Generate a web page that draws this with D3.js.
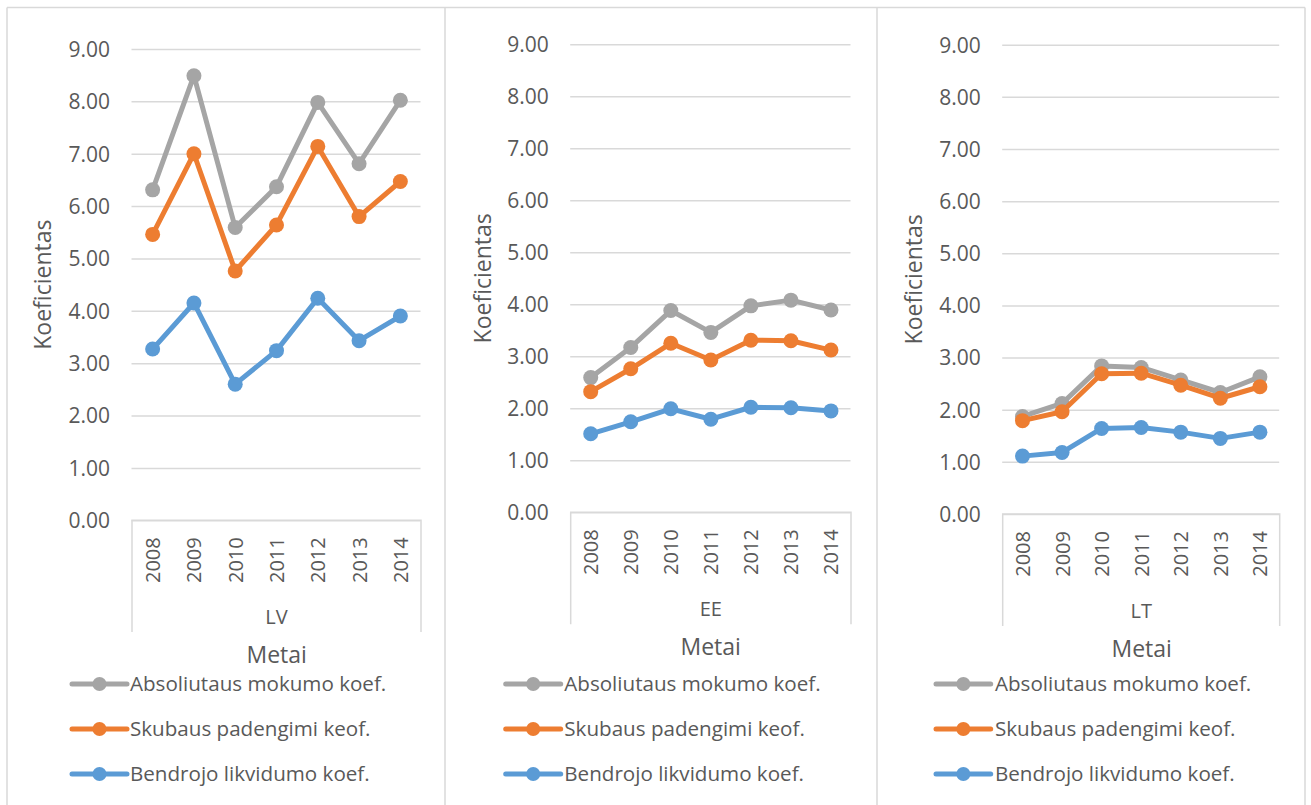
<!DOCTYPE html>
<html>
<head>
<meta charset="utf-8">
<script src="https://cdn.jsdelivr.net/npm/d3@7"></script>
<style>
  html, body { margin: 0; padding: 0; background: #fff; }
  svg { display: block; font-family: "Open Sans", "Noto Sans", sans-serif; }
</style>
</head>
<body>
<svg id="chart" width="1311" height="805"></svg>
<script>
// Categories
const years = ["2008", "2009", "2010", "2011", "2012", "2013", "2014"];
const countries = ["LV", "EE", "LT"];
const seriesNames = ["Absoliutaus mokumo koef.", "Skubaus padengimi keof.", "Bendrojo likvidumo koef."];
const yTicks = [0, 1, 2, 3, 4, 5, 6, 7, 8, 9];
const xTitle = "Metai";
const yTitle = "Koeficientas";

// Latvia
const lvAbsoliutaus = [6.31, 8.49, 5.59, 6.37, 7.98, 6.81, 8.02];
const lvSkubaus     = [5.46, 7.00, 4.76, 5.64, 7.14, 5.80, 6.47];
const lvBendrojo    = [3.27, 4.15, 2.60, 3.24, 4.24, 3.43, 3.90];

// Estonia
const eeAbsoliutaus = [2.59, 3.17, 3.88, 3.46, 3.97, 4.08, 3.89];
const eeSkubaus     = [2.32, 2.76, 3.25, 2.93, 3.31, 3.30, 3.12];
const eeBendrojo    = [1.51, 1.74, 1.99, 1.79, 2.02, 2.01, 1.95];

// Lithuania
const ltAbsoliutaus = [1.87, 2.12, 2.84, 2.81, 2.57, 2.33, 2.63];
const ltSkubaus     = [1.79, 1.96, 2.69, 2.70, 2.47, 2.22, 2.44];
const ltBendrojo    = [1.11, 1.18, 1.64, 1.66, 1.57, 1.45, 1.57];

const seriesColors = ["#A5A5A5", "#ED7D31", "#5B9BD5"];

const panelData = [
  [lvAbsoliutaus, lvSkubaus, lvBendrojo],
  [eeAbsoliutaus, eeSkubaus, eeBendrojo],
  [ltAbsoliutaus, ltSkubaus, ltBendrojo]
];

// Geometry of each chart panel
const layout = [
  { left: 7,   right: 445,  px0: 132,   px1: 421,   py0: 520.3, py1: 49,   boxBottom: 632,   catY: 617,   titleX: 276.7,  titleY: 655,   yTitleX: 43,    legX0: 72,    legX1: 127,   legText: 130 },
  { left: 445, right: 877,  px0: 570.7, px1: 851,   py0: 512.3, py1: 44.3, boxBottom: 624.3, catY: 609,   titleX: 710.7,  titleY: 647,   yTitleX: 483,   legX0: 505.7, legX1: 560.7, legText: 564.3 },
  { left: 877, right: 1305, px0: 1002.7, px1: 1279.7, py0: 514, py1: 44.7, boxBottom: 626,  catY: 611,   titleX: 1141.7, titleY: 649,   yTitleX: 914.3, legX0: 936,   legX1: 990.7, legText: 995 }
];
const legendY = [684, 729, 774];

const svg = d3.select("#chart");
const textColor = "#595959";
const gridColor = "#D9D9D9";

// panel frames
svg.append("line").attr("x1", 7).attr("x2", 1305).attr("y1", 7.5).attr("y2", 7.5)
  .attr("stroke", gridColor).attr("stroke-width", 1.5);
[7, 445, 877, 1305].forEach(x => {
  svg.append("line").attr("x1", x).attr("x2", x).attr("y1", 7.5).attr("y2", 805)
    .attr("stroke", gridColor).attr("stroke-width", 1.5);
});

layout.forEach((L, pi) => {
  const g = svg.append("g");
  const x = d3.scalePoint().domain(years).range([L.px0, L.px1]).padding(0.5);
  const y = d3.scaleLinear().domain([0, 9]).range([L.py0, L.py1]);

  // gridlines and value labels
  const yAxis = d3.axisLeft(y).tickValues(yTicks).tickSize(-(L.px1 - L.px0)).tickPadding(22)
    .tickFormat(d3.format(".2f"));
  const ya = g.append("g").attr("transform", `translate(${L.px0},0)`).call(yAxis);
  ya.select(".domain").remove();
  ya.selectAll(".tick line").attr("stroke", gridColor).attr("stroke-width", 1.5)
    .attr("transform", "translate(-0.5,0)");
  ya.selectAll(".tick text").attr("fill", textColor).attr("font-size", 21)
    .attr("font-family", "'Open Sans', sans-serif").attr("dy", "0.35em");

  // category axis box
  g.append("path")
    .attr("d", `M${L.px0},${L.boxBottom}V${L.py0}H${L.px1}V${L.boxBottom}`)
    .attr("fill", "none").attr("stroke", gridColor).attr("stroke-width", 1.5);

  // year labels (rotated)
  const xAxis = d3.axisBottom(x).tickSize(0).tickPadding(0);
  const xa = g.append("g").attr("transform", `translate(0,${L.py0})`).call(xAxis);
  xa.select(".domain").remove();
  xa.selectAll(".tick text")
    .attr("fill", textColor).attr("font-size", 20)
    .attr("font-family", "'Open Sans', sans-serif")
    .attr("transform", "rotate(-90)")
    .attr("text-anchor", "end")
    .attr("x", -17).attr("y", 0).attr("dy", "0.35em");

  // country label
  g.append("text").attr("x", (L.px0 + L.px1) / 2).attr("y", L.catY).attr("dy", "0.35em")
    .attr("text-anchor", "middle").attr("fill", textColor).attr("font-size", 20)
    .text(countries[pi]);

  // axis titles
  g.append("text").attr("x", L.titleX).attr("y", L.titleY).attr("dy", "0.35em")
    .attr("text-anchor", "middle").attr("fill", textColor).attr("font-size", 23)
    .text(xTitle);
  g.append("text")
    .attr("transform", `translate(${L.yTitleX},${(L.py0 + L.py1) / 2}) rotate(-90)`)
    .attr("dy", "0.35em").attr("text-anchor", "middle").attr("fill", textColor)
    .attr("font-size", 23).text(yTitle);

  // series lines and markers
  const line = d3.line().x((d, i) => x(years[i])).y(d => y(d));
  panelData[pi].forEach((vals, si) => {
    g.append("path").datum(vals).attr("d", line)
      .attr("fill", "none").attr("stroke", seriesColors[si]).attr("stroke-width", 5)
      .attr("stroke-linejoin", "round").attr("stroke-linecap", "round");
    g.selectAll(null).data(vals).enter().append("circle")
      .attr("cx", (d, i) => x(years[i])).attr("cy", d => y(d)).attr("r", 7.5)
      .attr("fill", seriesColors[si]);
  });

  // legend
  seriesNames.forEach((name, si) => {
    const ly = legendY[si];
    g.append("line").attr("x1", L.legX0).attr("x2", L.legX1).attr("y1", ly).attr("y2", ly)
      .attr("stroke", seriesColors[si]).attr("stroke-width", 5).attr("stroke-linecap", "round");
    g.append("circle").attr("cx", (L.legX0 + L.legX1) / 2).attr("cy", ly).attr("r", 7)
      .attr("fill", seriesColors[si]);
    g.append("text").attr("x", L.legText).attr("y", ly).attr("dy", "0.35em")
      .attr("fill", textColor).attr("font-size", 20.6).text(name);
  });
});
</script>
</body>
</html>
